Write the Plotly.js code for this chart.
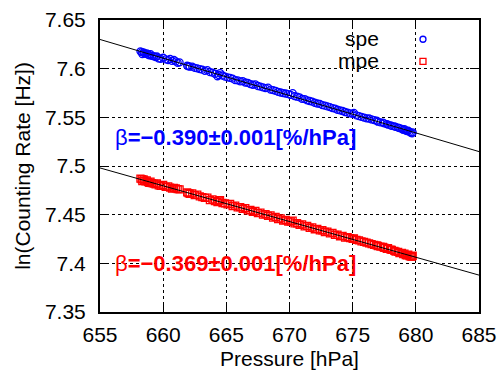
<!DOCTYPE html>
<html>
<head>
<meta charset="utf-8">
<script src="https://cdn.plot.ly/plotly-3.0.1.min.js"></script>
<style>html,body{margin:0;padding:0;background:#fff;}#chart{width:500px;height:373px;}</style>
</head>
<body>
<div id="chart"></div>
<script>
// Pressure [hPa] (shared by both series)
const pressure = [
  658.2, 658.3, 658.35, 658.45, 658.5, 658.6, 658.7, 658.8, 658.9, 659.0,
  659.1, 659.25, 659.4, 659.5, 659.65, 659.8, 660.0, 660.2, 660.4, 660.55,
  660.7, 660.85, 661.0, 661.15, 661.3,
  661.9, 662.0, 662.1, 662.3, 662.5, 662.7, 662.9, 663.1, 663.3, 663.5,
  663.7, 663.9, 664.1, 664.3, 664.4, 664.5, 664.7, 664.9, 665.1, 665.3,
  665.5, 665.7, 665.9, 666.1, 666.3, 666.5, 666.7, 666.9, 667.1, 667.3,
  667.5, 667.7, 667.9, 668.1, 668.3, 668.5, 668.7, 668.9, 669.1, 669.3,
  669.5, 669.7, 669.9, 670.1, 670.25, 670.4, 670.6, 670.8, 671.0, 671.2,
  671.4, 671.6, 671.8, 672.0, 672.2, 672.4, 672.6, 672.8, 673.0, 673.2,
  673.4, 673.6, 673.8, 674.0, 674.2, 674.4, 674.6, 674.8, 675.0, 675.1,
  675.3, 675.5, 675.7, 675.9, 676.1, 676.3, 676.5, 676.7, 676.9, 677.0,
  677.2, 677.4, 677.5, 677.7, 677.8, 678.0, 678.1, 678.3, 678.4, 678.6,
  678.7, 678.9, 679.0, 679.1, 679.2, 679.3, 679.4, 679.5, 679.6, 679.7,
  679.75
];
// ln(Counting Rate [Hz]) for spe
const speRate = [
  7.6178, 7.6170, 7.6150, 7.6168, 7.6160, 7.6152, 7.6158, 7.6145, 7.6138, 7.6150,
  7.6132, 7.6128, 7.6118, 7.6125, 7.6105, 7.6100, 7.6112, 7.6095, 7.6088, 7.6100,
  7.6080, 7.6090, 7.6075, 7.6060, 7.6065,
  7.6030, 7.6025, 7.6022, 7.6020, 7.6008, 7.6003, 7.5995, 7.5990, 7.5978, 7.5985,
  7.5965, 7.5960, 7.5948, 7.5922, 7.5935, 7.5955, 7.5930, 7.5918, 7.5910, 7.5905,
  7.5898, 7.5882, 7.5880, 7.5870, 7.5872, 7.5858, 7.5855, 7.5842, 7.5835, 7.5838,
  7.5822, 7.5815, 7.5808, 7.5800, 7.5805, 7.5785, 7.5780, 7.5772, 7.5762, 7.5755,
  7.5748, 7.5745, 7.5738, 7.5730, 7.5748, 7.5718, 7.5712, 7.5705, 7.5690, 7.5688,
  7.5675, 7.5668, 7.5662, 7.5650, 7.5642, 7.5638, 7.5625, 7.5620, 7.5612, 7.5605,
  7.5595, 7.5590, 7.5578, 7.5572, 7.5565, 7.5555, 7.5548, 7.5540, 7.5535, 7.5545,
  7.5520, 7.5512, 7.5505, 7.5498, 7.5490, 7.5488, 7.5478, 7.5472, 7.5465, 7.5455,
  7.5448, 7.5445, 7.5438, 7.5430, 7.5425, 7.5418, 7.5412, 7.5408, 7.5402, 7.5395,
  7.5390, 7.5380, 7.5372, 7.5378, 7.5365, 7.5358, 7.5362, 7.5350, 7.5342, 7.5335,
  7.5345
];
// ln(Counting Rate [Hz]) for mpe
const mpeRate = [
  7.4870, 7.4865, 7.4845, 7.4862, 7.4850, 7.4842, 7.4852, 7.4835, 7.4828, 7.4840,
  7.4825, 7.4818, 7.4812, 7.4820, 7.4800, 7.4795, 7.4805, 7.4785, 7.4790, 7.4778,
  7.4768, 7.4775, 7.4770, 7.4762, 7.4760,
  7.4728, 7.4722, 7.4715, 7.4718, 7.4700, 7.4705, 7.4688, 7.4680, 7.4672, 7.4675,
  7.4650, 7.4658, 7.4640, 7.4628, 7.4645, 7.4648, 7.4620, 7.4615, 7.4605, 7.4610,
  7.4588, 7.4592, 7.4575, 7.4578, 7.4560, 7.4568, 7.4545, 7.4548, 7.4530, 7.4538,
  7.4515, 7.4520, 7.4500, 7.4505, 7.4488, 7.4492, 7.4470, 7.4478, 7.4455, 7.4462,
  7.4440, 7.4445, 7.4428, 7.4430, 7.4438, 7.4410, 7.4412, 7.4395, 7.4400, 7.4380,
  7.4385, 7.4365, 7.4370, 7.4350, 7.4355, 7.4338, 7.4340, 7.4322, 7.4325, 7.4308,
  7.4312, 7.4292, 7.4295, 7.4278, 7.4282, 7.4265, 7.4270, 7.4258, 7.4252, 7.4255,
  7.4240, 7.4235, 7.4225, 7.4220, 7.4212, 7.4205, 7.4198, 7.4190, 7.4185, 7.4178,
  7.4172, 7.4168, 7.4160, 7.4150, 7.4155, 7.4140, 7.4138, 7.4128, 7.4120, 7.4118,
  7.4105, 7.4108, 7.4095, 7.4100, 7.4085, 7.4082, 7.4090, 7.4075, 7.4070, 7.4068,
  7.4078
];
// Fit lines (end points at the axis range)
const fitPressure = [655, 685];
const speFit = [7.6300, 7.5148];
const mpeFit = [7.4980, 7.3879];
const seriesNames = ['spe', 'mpe'];
const fitLabels = ['β<b>=−0.390±0.001[%/hPa]</b>', 'β<b>=−0.369±0.001[%/hPa]</b>'];

const FONT = 'Liberation Sans, Arial, Helvetica, sans-serif';
const BLUE = '#0000ff', RED = '#ff0000';

const fitLine = {color: '#000', width: 1};
const traces = [
  {x: pressure, y: speRate, mode: 'markers', name: seriesNames[0],
   marker: {symbol: 'circle-open', size: 7, color: BLUE, line: {width: 1.3, color: BLUE}}},
  {x: pressure, y: mpeRate, mode: 'markers', name: seriesNames[1],
   marker: {symbol: 'square-open', size: 7, color: RED, line: {width: 1.3, color: RED}}},
  {x: fitPressure, y: speFit, mode: 'lines', line: fitLine, showlegend: false, hoverinfo: 'skip'},
  {x: fitPressure, y: mpeFit, mode: 'lines', line: fitLine, showlegend: false, hoverinfo: 'skip'}
];

const axisCommon = {
  showline: true, linecolor: '#000', linewidth: 2, mirror: 'allticks',
  ticks: 'inside', ticklen: 9, tickwidth: 1, tickcolor: '#000',
  showgrid: true, gridcolor: '#000', gridwidth: 1, griddash: 'dot',
  zeroline: false, tickfont: {family: FONT, size: 21, color: '#000'}
};

const layout = {
  width: 500, height: 373,
  margin: {l: 100, r: 21, t: 20, b: 61},
  paper_bgcolor: '#fff', plot_bgcolor: '#fff',
  showlegend: false,
  font: {family: FONT, color: '#000'},
  xaxis: Object.assign({}, axisCommon, {
    range: [655, 685], dtick: 5, tick0: 655,
    ticklabelstandoff: 3,
    title: {text: 'Pressure [hPa]', font: {family: FONT, size: 21, color: '#000'}, standoff: 6}
  }),
  yaxis: Object.assign({}, axisCommon, {
    range: [7.35, 7.65], dtick: 0.05, tick0: 7.35,
    ticklabelstandoff: 8,
    title: {text: 'ln(Counting Rate [Hz])', font: {family: FONT, size: 21, color: '#000'}, standoff: 9}
  }),
  annotations: [
    {x: 656.0, y: 7.5289, xref: 'x', yref: 'y', xanchor: 'left', yanchor: 'middle', showarrow: false,
     text: fitLabels[0], font: {family: FONT, size: 22, color: BLUE}},
    {x: 656.0, y: 7.3995, xref: 'x', yref: 'y', xanchor: 'left', yanchor: 'middle', showarrow: false,
     text: fitLabels[1], font: {family: FONT, size: 22, color: RED}},
    {x: 0.7414, y: 0.938, xref: 'paper', yref: 'paper', xanchor: 'right', yanchor: 'middle', showarrow: false,
     text: seriesNames[0], font: {family: FONT, size: 21, color: '#000'}},
    {x: 0.7414, y: 0.862, xref: 'paper', yref: 'paper', xanchor: 'right', yanchor: 'middle', showarrow: false,
     text: seriesNames[1], font: {family: FONT, size: 21, color: '#000'}}
  ],
  shapes: [
    {type: 'circle', xref: 'paper', yref: 'paper', xsizemode: 'pixel', ysizemode: 'pixel',
     xanchor: 0.8522, yanchor: 0.934, x0: -3, x1: 3, y0: -3, y1: 3, line: {color: BLUE, width: 1.3}},
    {type: 'rect', xref: 'paper', yref: 'paper', xsizemode: 'pixel', ysizemode: 'pixel',
     xanchor: 0.8522, yanchor: 0.858, x0: -3, x1: 3, y0: -3, y1: 3, line: {color: RED, width: 1.3}}
  ]
};

Plotly.newPlot('chart', traces, layout, {staticPlot: true, displayModeBar: false});
</script>
</body>
</html>
